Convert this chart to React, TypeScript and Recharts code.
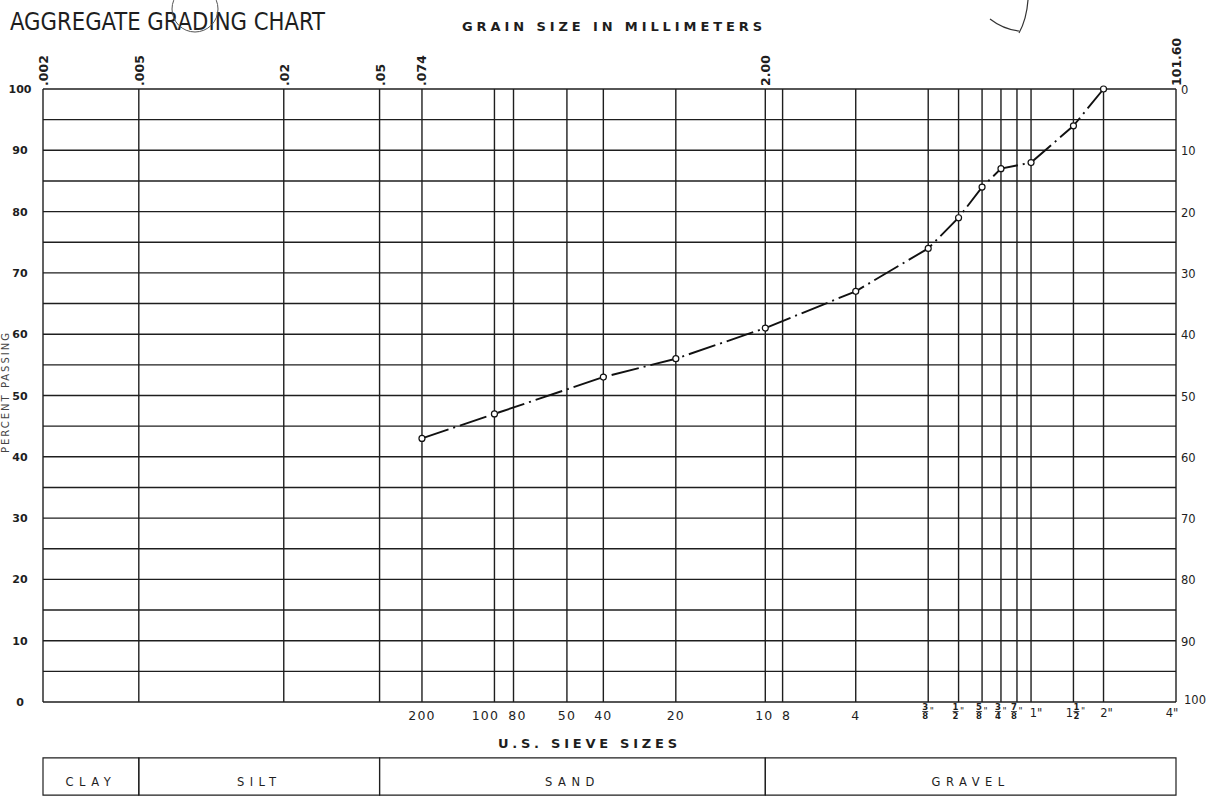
import React from "react";
import { LineChart, Line, XAxis, YAxis, CartesianGrid, ReferenceArea } from "recharts";

// grain size scale (mm) shown along the top
const mmTicks = [0.002, 0.005, 0.02, 0.05, 0.074, 2.0, 101.6];
const mmLabels = [".002", ".005", ".02", ".05", ".074", "2.00", "101.60"];

// US sieve openings (mm) and their names along the bottom
const sieveMm = [0.075, 0.15, 0.18, 0.3, 0.425, 0.85, 2.0, 2.36, 4.75, 9.5, 12.7, 15.9, 19.05, 22.2, 25.4, 38.1, 50.8, 101.6];
const sieveLabels = ["200", "100", "80", "50", "40", "20", "10", "8", "4", '3/8"', '1/2"', '5/8"', '3/4"', '7/8"', '1"', '1 1/2"', '2"', '4"'];

// vertical grid lines = mm marks without a sieve + all sieves
const gridMm = [0.002, 0.005, 0.02, 0.05, ...sieveMm];

// test result
const testSieveMm = [0.075, 0.15, 0.425, 0.85, 2.0, 4.75, 9.5, 12.7, 15.9, 19.05, 25.4, 38.1, 50.8];
const percentPassing = [43, 47, 53, 56, 61, 67, 74, 79, 84, 87, 88, 94, 100];

const passingTicks = [0, 5, 10, 15, 20, 25, 30, 35, 40, 45, 50, 55, 60, 65, 70, 75, 80, 85, 90, 95, 100];
const retainedTicks = [0, 10, 20, 30, 40, 50, 60, 70, 80, 90, 100];

const soilClasses = ["CLAY", "SILT", "SAND", "GRAVEL"];
const soilBounds = [0.002, 0.005, 0.05, 2.0, 101.6];

// crowded sieve labels get nudged apart
const labelNudge: Record<string, number> = { "100": -9, "80": 4, "10": -1, "8": 4, '1"': 5, '2"': 3, '4"': -4 };

const FONT = "'DejaVu Sans', Verdana, sans-serif";
const INK = "#1e1e1e";

function MmTick({ x, y, payload }: any) {
  const i = mmTicks.indexOf(payload.value);
  if (i < 0) return <g />;
  return (
    <text transform={`translate(${x + 5},${y - 3}) rotate(-90)`} fontSize={12.5} fontWeight="bold" fontFamily={FONT} fill={INK}>
      {mmLabels[i]}
    </text>
  );
}

function SieveTick({ x, y, payload }: any) {
  const i = sieveMm.indexOf(payload.value);
  if (i < 0) return <g />;
  const label = sieveLabels[i];
  const m = label.match(/^(?:(\d+) )?(\d+)\/(\d+)"$/);
  if (m) {
    const [, whole, num, den] = m;
    const fx = whole ? x + 3 : x - 3;
    return (
      <g fontFamily={FONT} fill={INK}>
        {whole && (
          <text x={x - 4} y={y + 15} fontSize={11.5} textAnchor="middle">{whole}</text>
        )}
        <text x={fx} y={y + 8} fontSize={8.5} fontWeight="bold" textAnchor="middle">{num}</text>
        <line x1={fx - 3} x2={fx + 3} y1={y + 9.5} y2={y + 9.5} stroke={INK} strokeWidth={0.8} />
        <text x={fx} y={y + 17} fontSize={8.5} fontWeight="bold" textAnchor="middle">{den}</text>
        <text x={fx + 4.5} y={y + 12} fontSize={9}>"</text>
      </g>
    );
  }
  const inch = label.endsWith('"');
  return (
    <text x={x + (labelNudge[label] ?? 0)} y={y + (inch ? 15 : 18)} fontSize={inch ? 11.5 : 12.5}
      letterSpacing={inch ? 0 : 1.2} textAnchor="middle" fontFamily={FONT} fill={INK}>
      {label}
    </text>
  );
}

function PassTick({ x, y, payload }: any) {
  if (payload.value % 10 !== 0) return <g />;
  return (
    <text x={x - 23} y={y + 4} fontSize={11} fontWeight="bold" textAnchor="middle" fontFamily={FONT} fill={INK}>
      {payload.value}
    </text>
  );
}

function RetainedTick({ x, y, payload }: any) {
  const last = payload.value === 100;
  return (
    <text x={x + (last ? 8 : 5)} y={y + (last ? 2 : 5)} fontSize={11.5} fontFamily={FONT} fill={INK}>
      {payload.value}
    </text>
  );
}

function ClassLabel({ viewBox, text }: any) {
  const { x, y, width, height } = viewBox;
  return (
    <text x={x + width / 2} y={y + height - 9} fontSize={11.5} letterSpacing={5.5} textAnchor="middle" fontFamily={FONT} fill={INK}>
      {text}
    </text>
  );
}

export default function App() {
  const data = testSieveMm.map((mm, i) => ({ mm, pct: percentPassing[i], retained: 100 - percentPassing[i] }));
  return (
    <div style={{ position: "absolute", left: 0, top: 0, width: 1216, height: 800, background: "#fff" }}>
      <LineChart width={1216} height={800} data={data} margin={{ top: 29, right: 0, bottom: 68, left: 0 }}>
        <CartesianGrid stroke={INK} strokeWidth={1.4} />
        <XAxis dataKey="mm" type="number" scale="log" domain={[0.002, 101.6]} ticks={gridMm} interval={0}
          height={30} tickSize={0} tickMargin={0} axisLine={false} tickLine={false} tick={<SieveTick />} />
        <XAxis xAxisId="top" dataKey="mm" orientation="top" type="number" scale="log" domain={[0.002, 101.6]} ticks={mmTicks}
          interval={0} height={60} tickSize={0} tickMargin={0} axisLine={false} tickLine={false} tick={<MmTick />} />
        <YAxis type="number" domain={[0, 100]} ticks={passingTicks} interval={0} width={43}
          tickSize={0} tickMargin={0} axisLine={false} tickLine={false} tick={<PassTick />} />
        <YAxis yAxisId="right" orientation="right" type="number" reversed domain={[0, 100]} ticks={retainedTicks}
          interval={0} width={40} tickSize={0} tickMargin={0} axisLine={false} tickLine={false} tick={<RetainedTick />} />
        {soilClasses.map((c, i) => (
          <ReferenceArea key={c} x1={soilBounds[i]} x2={soilBounds[i + 1]} y1={-15.2} y2={-9.1} ifOverflow="visible"
            fill="none" fillOpacity={0} stroke={INK} strokeWidth={1.2} label={<ClassLabel text={c} />} />
        ))}
        {/* same curve read as percent retained: invisible, keeps the top and right scales alive */}
        <Line xAxisId="top" yAxisId="right" dataKey="retained" stroke="none" dot={false} activeDot={false}
          isAnimationActive={false} />
        <Line dataKey="pct" type="linear" stroke="#111" strokeWidth={1.9} strokeDasharray="28 5 2 5"
          dot={{ r: 3, fill: "#fff", stroke: "#111", strokeWidth: 1.2, strokeDasharray: "" }}
          isAnimationActive={false} />
      </LineChart>
      <svg width={1216} height={800} style={{ position: "absolute", left: 0, top: 0, pointerEvents: "none" }}>
        <text x={10} y={30} fontSize={24} textLength={315} lengthAdjust="spacingAndGlyphs"
          fontFamily="'Liberation Sans Narrow', 'DejaVu Sans Condensed', 'DejaVu Sans', sans-serif" fill={INK}>
          AGGREGATE GRADING CHART
        </text>
        <circle cx={195} cy={9} r={23} fill="none" stroke="#555" strokeWidth={1} />
        <path d="M 1028 0 C 1027 14, 1024 24, 1019 33 M 990 19 C 999 26, 1010 30, 1019 31" fill="none" stroke="#333" strokeWidth={1.2} />
        <text x={462} y={31} fontSize={13} fontWeight="bold" textLength={300} lengthAdjust="spacing" fontFamily={FONT} fill={INK}>
          GRAIN SIZE IN MILLIMETERS
        </text>
        <text x={498} y={748} fontSize={13} fontWeight="bold" textLength={179} lengthAdjust="spacing" fontFamily={FONT} fill={INK}>
          U.S. SIEVE SIZES
        </text>
        <text transform="translate(9,392) rotate(-90)" fontSize={10} letterSpacing={2} textAnchor="middle" fontFamily={FONT} fill="#444">
          PERCENT PASSING
        </text>
      </svg>
    </div>
  );
}
